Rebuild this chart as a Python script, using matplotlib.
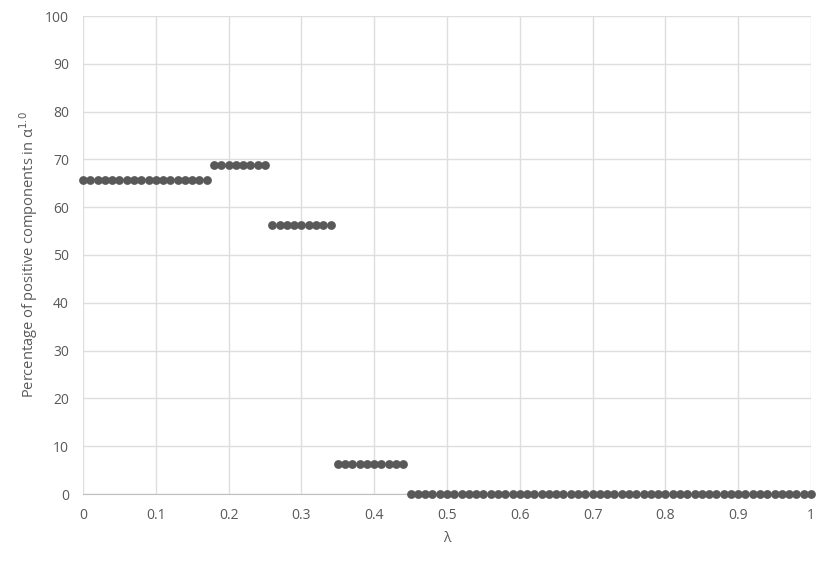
import numpy as np
import matplotlib
matplotlib.use("Agg")
import matplotlib.pyplot as plt

plt.rcParams['font.family'] = ['Open Sans', 'DejaVu Sans']

# lambda values in steps of 0.01 grouped by segment levels
seg_starts = [0.00, 0.18, 0.26, 0.35, 0.45]
seg_ends = [0.17, 0.25, 0.34, 0.44, 1.00]
seg_values = [65.625, 68.75, 56.25, 6.25, 0.0]

lam = []
pct = []
for s, e, v in zip(seg_starts, seg_ends, seg_values):
    n = int(round((e - s) / 0.01)) + 1
    for i in range(n):
        lam.append(round(s + i * 0.01, 2))
        pct.append(v)

x_ticks = [0, 0.1, 0.2, 0.3, 0.4, 0.5, 0.6, 0.7, 0.8, 0.9, 1]
x_labels = ["0", "0.1", "0.2", "0.3", "0.4", "0.5", "0.6", "0.7", "0.8", "0.9", "1"]
y_ticks = list(range(0, 101, 10))

fig = plt.figure(figsize=(8.31, 5.69), dpi=100)
ax = fig.add_axes([83/831, 1-494/569, (811-83)/831, (494-16)/569])

ax.scatter(lam, pct, s=40, color='#595959', zorder=3, linewidths=0, clip_on=False)

ax.set_xlim(0, 1)
ax.set_ylim(0, 100)
ax.set_xticks(x_ticks)
ax.set_xticklabels(x_labels)
ax.set_yticks(y_ticks)
ax.grid(True, color='#dedede', linewidth=1)
ax.set_axisbelow(True)
for side in ['top', 'right', 'left']:
    ax.spines[side].set_visible(False)
ax.spines['bottom'].set_color('#bfbfbf')
ax.tick_params(length=0, colors='#595959', labelsize=10, pad=10)
ax.set_xlabel('λ', color='#595959', fontsize=10, labelpad=6)
ax.set_ylabel('Percentage of positive components in α$^{1.0}$', color='#595959', fontsize=10.5, labelpad=4)

fig.savefig('out.png', dpi=100)
